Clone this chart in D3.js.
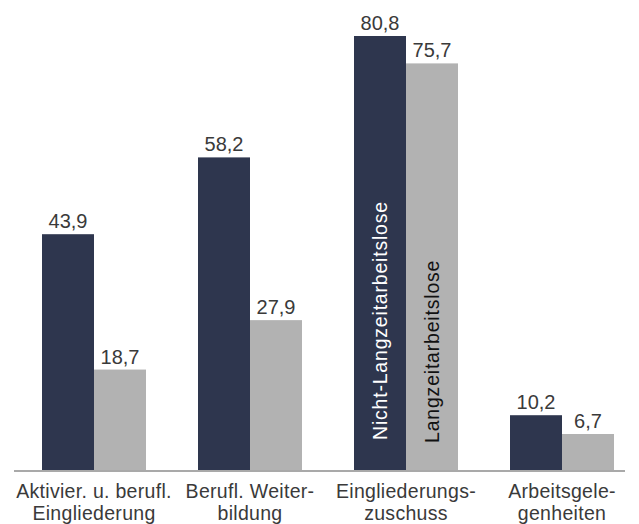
<!DOCTYPE html>
<html><head><meta charset="utf-8">
<script src="https://cdn.jsdelivr.net/npm/d3@7"></script>
<style>body{margin:0;background:#fff}svg{display:block}text{font-family:"Liberation Sans",Arial,sans-serif}</style>
</head><body>
<script>
const categories = [["Aktivier. u. berufl.","Eingliederung"],["Berufl. Weiter-","bildung"],["Eingliederungs-","zuschuss"],["Arbeitsgele-","genheiten"]];
const seriesNames = ["Nicht-Langzeitarbeitslose","Langzeitarbeitslose"];
const nichtLzA = [43.9, 58.2, 80.8, 10.2];
const lzA = [18.7, 27.9, 75.7, 6.7];
const colors = ["#2e364e", "#b2b2b2"];
const valueLabels = v => v.toFixed(1).replace(".", ",");

const W = 639, H = 524;
const svg = d3.select("body").append("svg").attr("width", W).attr("height", H);
const base = 470;
const y = d3.scaleLinear().domain([0, 80.8]).range([base, 36]);
const x0 = d3.scaleBand().domain(d3.range(categories.length)).range([16, 640]).paddingInner(1/3).paddingOuter(1/6);
const x1 = d3.scaleBand().domain([0,1]).range([0, x0.bandwidth()]);
const series = [nichtLzA, lzA];

const g = svg.append("g");
series.forEach((vals, s) => {
  g.selectAll(".b" + s).data(vals).enter().append("rect")
    .attr("x", (d, i) => x0(i) + x1(s))
    .attr("y", d => y(d))
    .attr("width", x1.bandwidth())
    .attr("height", d => base - y(d))
    .attr("fill", colors[s]);
  g.selectAll(".l" + s).data(vals).enter().append("text")
    .attr("x", (d, i) => x0(i) + x1(s) + x1.bandwidth() / 2)
    .attr("y", d => y(d) - 6)
    .attr("text-anchor", "middle")
    .attr("font-size", 20)
    .attr("fill", "#3a3a3a")
    .text(valueLabels);
});

// axis line
svg.append("line").attr("x1", 14).attr("x2", 625).attr("y1", base + 1).attr("y2", base + 1)
  .attr("stroke", "#8c8c8c").attr("stroke-width", 1.5);

// category labels
categories.forEach((lines, i) => {
  const t = svg.append("text").attr("text-anchor", "middle").attr("font-size", 19.5)
    .attr("letter-spacing", 0.3).attr("fill", "#3a3a3a");
  lines.forEach((ln, k) => {
    t.append("tspan").attr("x", x0(i) + x0.bandwidth() / 2).attr("y", 498 + k * 22).text(ln);
  });
});

// series labels inside bars of third category
const ci = 2;
seriesNames.forEach((name, s) => {
  const cx = x0(ci) + x1(s) + x1.bandwidth() / 2;
  svg.append("text")
    .attr("transform", `translate(${cx + 7},${base - (s === 0 ? 30 : 27)}) rotate(-90)`)
    .attr("font-size", 19.5).attr("letter-spacing", 0.8)
    .attr("fill", s === 0 ? "#ffffff" : "#111")
    .text(name);
});
</script>
</body></html>
